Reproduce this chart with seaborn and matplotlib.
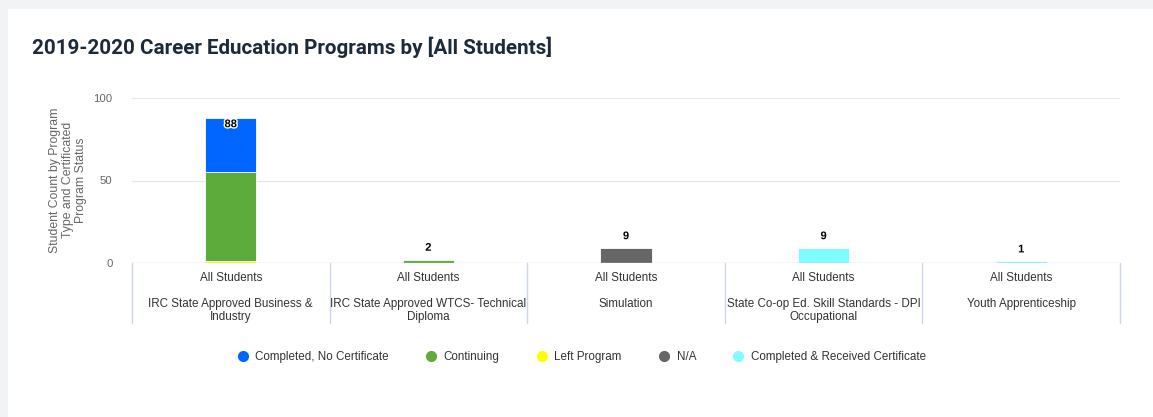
import matplotlib
matplotlib.use("Agg")
import matplotlib.pyplot as plt
import matplotlib.patheffects as pe
from matplotlib.lines import Line2D
from matplotlib.patches import Rectangle
from matplotlib import transforms
import seaborn as sns
import pandas as pd

# data
programs = [
    "IRC State Approved Business &\nIndustry",
    "IRC State Approved WTCS- Technical\nDiploma",
    "Simulation",
    "State Co-op Ed. Skill Standards - DPI\nOccupational",
    "Youth Apprenticeship",
]
group_label = "All Students"
statuses = ["Completed, No Certificate", "Continuing", "Left Program",
            "N/A", "Completed & Received Certificate"]
completed_no_cert = [33, 0, 0, 0, 0]
continuing = [54, 2, 0, 0, 0]
left_program = [1, 0, 0, 0, 0]
not_available = [0, 0, 9, 0, 0]
completed_cert = [0, 0, 0, 9, 1]

colors = {
    "Completed, No Certificate": "#0066ff",
    "Continuing": "#5cab3b",
    "Left Program": "#ffff00",
    "N/A": "#666666",
    "Completed & Received Certificate": "#7ffcff",
}

values = {
    "Completed, No Certificate": completed_no_cert,
    "Continuing": continuing,
    "Left Program": left_program,
    "N/A": not_available,
    "Completed & Received Certificate": completed_cert,
}

# stack order bottom -> top is reverse of legend order
stack_order = statuses[::-1]
rows = []
for i, prog in enumerate(programs):
    running = 0
    for st in stack_order:
        running += values[st][i]
        rows.append({"program": prog, "status": st, "value": values[st][i], "cum": running})
df = pd.DataFrame(rows)
totals = df.groupby("program", sort=False)["value"].sum().reindex(programs)

sns.set_style("white")
plt.rcParams["font.family"] = ["Liberation Sans", "DejaVu Sans"]

W, H = 1153, 417
fig = plt.figure(figsize=(W / 100, H / 100), dpi=100)
fig.patch.set_facecolor("#f2f3f5")
fig.patches.append(Rectangle((8 / W, 0), 1, 1 - 9 / H, transform=fig.transFigure,
                             facecolor="white", edgecolor="none", zorder=-10))

left, right, top, bottom = 132, 1120, 98, 263
ax = fig.add_axes([left / W, 1 - bottom / H, (right - left) / W, (bottom - top) / H])
ax.set_facecolor("none")

# overlay cumulative bars, top segment first
for st in stack_order[::-1]:
    sub = df[df["status"] == st]
    sns.barplot(data=sub, x="program", y="cum", order=programs, color=colors[st],
                width=0.26, saturation=1, edgecolor="white", linewidth=0.6, ax=ax, zorder=2)

ax.set_ylim(0, 100)
ax.set_xlim(-0.5, len(programs) - 0.5)
ax.set_yticks([0, 50, 100])
ax.set_yticklabels(["0", "50", "100"], fontsize=8.2, color="#666666")
ax.tick_params(axis="y", length=0, pad=14)
ax.set_xticks([])
ax.set_xlabel("")
ax.set_ylabel("")
for s in ax.spines.values():
    s.set_visible(False)
for yv in [50, 100]:
    ax.axhline(yv, color="#e6e6e6", linewidth=0.8, zorder=1)
ax.axhline(0, color="#ccd6eb", linewidth=1, zorder=5)

# stack totals
for i, prog in enumerate(programs):
    tot = totals[prog]
    if i == 0:
        ax.annotate(str(tot), (i, tot), xytext=(0, -1), textcoords="offset points",
                    ha="center", va="top", fontsize=8, fontweight="bold", color="black",
                    path_effects=[pe.withStroke(linewidth=2, foreground="white")], zorder=6)
    else:
        ax.annotate(str(tot), (i, tot), xytext=(0, 5), textcoords="offset points",
                    ha="center", va="bottom", fontsize=8, fontweight="bold", color="black",
                    path_effects=[pe.withStroke(linewidth=2, foreground="white")], zorder=6)

# category grid below the axis
blend = transforms.blended_transform_factory(ax.transData, fig.transFigure)
for b in range(len(programs) + 1):
    ax.plot([b - 0.5, b - 0.5], [1 - 263 / H, 1 - 323 / H], transform=blend,
            color="#ccd6eb", linewidth=1, clip_on=False)
for i, prog in enumerate(programs):
    ax.text(i, 1 - 278 / H, group_label, transform=blend, ha="center", va="center",
            fontsize=8.4, color="#333333")
    ax.text(i, 1 - 298 / H, prog, transform=blend, ha="center", va="top",
            fontsize=8.4, color="#333333", linespacing=1.15)

fig.text(68 / W, 1 - 180 / H, "Student Count by Program\nType and Certificated\nProgram Status",
         rotation=90, ha="center", va="center", multialignment="center",
         fontsize=8.8, color="#666666", linespacing=1.15)

fig.text(32 / W, 1 - 47 / H, "2019-2020 Career Education Programs by [All Students]",
         ha="left", va="center", fontsize=14.9, fontweight="bold", color="#1c2a3a",
         family=["Roboto", "DejaVu Sans"])

handles = [Line2D([], [], marker="o", linestyle="none", markersize=7,
                  markerfacecolor=colors[st], markeredgecolor=colors[st]) for st in statuses]
fig.legend(handles, statuses, loc="center", bbox_to_anchor=(582 / W, 1 - 357 / H),
           ncol=5, frameon=False, fontsize=8.4, labelcolor="#333333",
           handlelength=0.8, handletextpad=0.7, columnspacing=3.2)

fig.savefig("out.png", dpi=100, facecolor=fig.get_facecolor())
